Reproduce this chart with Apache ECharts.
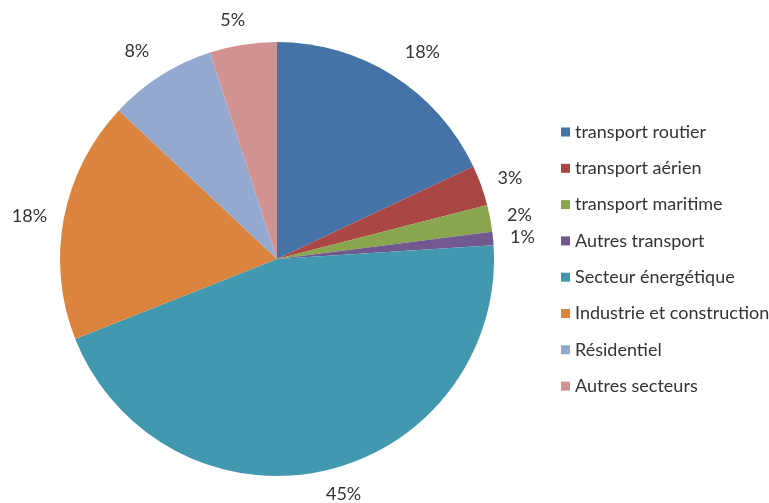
<!DOCTYPE html>
<html><head><meta charset="utf-8">
<script src="https://cdn.jsdelivr.net/npm/echarts@6/dist/echarts.min.js"></script>
<style>html,body{margin:0;padding:0;background:#fff}#c{width:769px;height:503px}</style>
</head><body><div id="c"></div>
<script>
const categories = ['transport routier','transport aérien','transport maritime','Autres transport','Secteur énergétique','Industrie et construction','Résidentiel','Autres secteurs'];
const values = [18, 3, 2, 1, 45, 18, 8, 5];
const colors = ['#4572A7','#AA4643','#89A54E','#71588F','#4198AF','#DB843D','#93A9CF','#D19392'];
const labelShift = [[0,-13],[0,-3],[0,-1],[0,0],[-6,12],[0,0],[0,-14],[9,-13]];
const chart = echarts.init(document.getElementById('c'));
chart.setOption({
  animation: false,
  color: colors,
  textStyle: {fontFamily: 'Lato', color: '#404040'},
  legend: {
    orient: 'vertical', left: 556, top: 118,
    itemWidth: 9, itemHeight: 9, itemGap: 18.3, icon: 'rect',
    textStyle: {fontFamily: 'Lato', fontSize: 18, color: '#333'},
    data: categories
  },
  series: [{
    type: 'pie', center: [277, 259], radius: 217, startAngle: 90, clockwise: true,
    data: categories.map((n, i) => ({name: n, value: values[i]})),
    label: {position: 'outside', formatter: '{d}%', fontFamily: 'Lato', fontSize: 18, color: '#333'},
    labelLine: {show: false, length: 12, length2: 0},
    labelLayout: (p) => ({dx: labelShift[p.dataIndex][0], dy: labelShift[p.dataIndex][1]}),
    itemStyle: {borderWidth: 0}
  }]
});
</script></body></html>
